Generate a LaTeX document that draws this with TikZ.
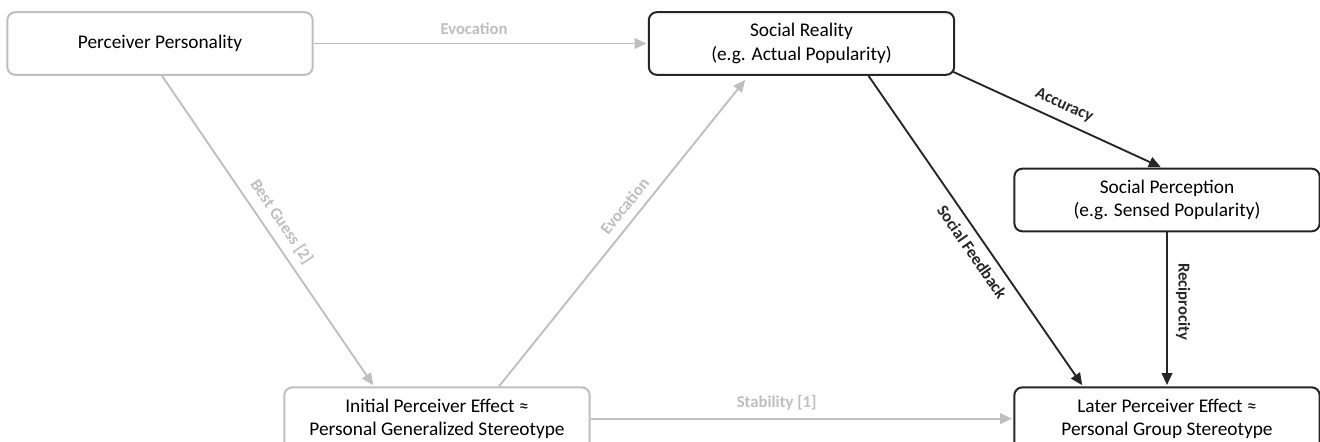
\documentclass[tikz,border=0pt]{standalone}
\usepackage{fontspec}
\setmainfont{Carlito}
\usetikzlibrary{positioning,arrows.meta,calc}
\definecolor{palGray}{HTML}{BFBFBF}
\definecolor{palDark}{HTML}{262626}
\tikzset{
  effbox/.style={draw, rounded corners=6pt, line width=1.5pt, fill=white,
                 text=black, minimum width=229pt, minimum height=47pt,
                 align=center, inner sep=2pt,
                 font=\fontsize{14.5}{17.5}\selectfont},
  softbox/.style={effbox, draw=palGray},
  hardbox/.style={effbox, draw=palDark},
  softarrow/.style={-{Triangle[length=9pt,width=8pt]}, line width=1.4pt,
                    palGray, shorten >=1pt},
  hardarrow/.style={softarrow, palDark},
  edgelbl/.style={font=\fontsize{12.5}{15}\selectfont\bfseries, inner sep=6pt},
}
\begin{document}
\begin{tikzpicture}[x=0.75pt, y=-0.75pt]
\clip (0,0) rectangle (1320,442);
\useasboundingbox (0,0) rectangle (1320,442);
%% Nodes
\node[softbox] (PP) at (160,43.5) {Perceiver Personality};
\node[hardbox] (SR) at (801.5,43.5) {Social Reality\\(e.g. Actual Popularity)};
\node[hardbox] (SP) at (1167,200) {Social Perception\\(e.g. Sensed Popularity)};
\node[hardbox, below=115.5pt of SP] (LPE) {Later Perceiver Effect ≈\\Personal Group Stereotype};
\node[softbox, left=317pt of LPE] (IPE) {Initial Perceiver Effect ≈\\Personal Generalized Stereotype};
%% Edges
\draw[softarrow] (PP) -- node[edgelbl, above, pos=0.48] {Evocation} (SR);
\draw[softarrow] ($(PP.south)+(2,0)$) --
  node[edgelbl, sloped, above, pos=0.5] {Best Guess [2]} ($(IPE.north)+(-63,0)$);
\draw[softarrow, shorten >=4pt] ($(IPE.north)+(62,0)$) --
  node[edgelbl, sloped, above, pos=0.55] {Evocation} ($(SR.south)+(-53,0)$);
\draw[hardarrow] ($(SR.south)+(67,0)$) --
  node[edgelbl, sloped, below, pos=0.54] {Social Feedback} ($(LPE.north)+(-84,0)$);
\draw[hardarrow] ($(SR.south east)+(-2,-4)$) --
  node[edgelbl, sloped, above, pos=0.5] {Accuracy} ($(SP.north)+(-5,0)$);
\draw[hardarrow] (SP) -- node[edgelbl, sloped, above, pos=0.45] {Reciprocity} (LPE);
\draw[softarrow] (IPE) -- node[edgelbl, above, pos=0.44] {Stability [1]} (LPE);
\end{tikzpicture}
\end{document}
